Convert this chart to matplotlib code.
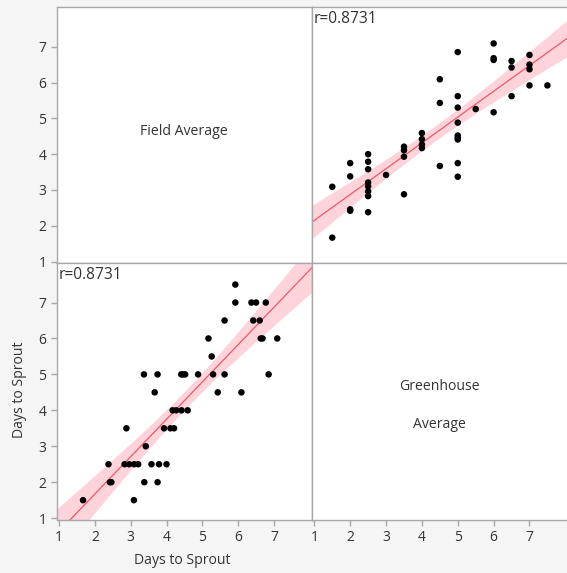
import numpy as np
import matplotlib
matplotlib.use("Agg")
import matplotlib.pyplot as plt

plt.rcParams['font.family'] = ['Open Sans', 'DejaVu Sans']

# Paired observations (Days to Sprout)
greenhouse = [1.5, 1.5,
              2.0, 2.0, 2.0, 2.0,
              2.5, 2.5, 2.5, 2.5, 2.5, 2.5, 2.5, 2.5,
              3.0,
              3.5, 3.5, 3.5, 3.5,
              4.0, 4.0, 4.0, 4.0,
              4.5, 4.5, 4.5,
              5.0, 5.0, 5.0, 5.0, 5.0, 5.0, 5.0, 5.0, 5.0,
              5.5,
              6.0, 6.0, 6.0, 6.0,
              6.5, 6.5, 6.5,
              7.0, 7.0, 7.0, 7.0,
              7.5]
field = [3.09, 1.67,
         3.75, 3.38, 2.46, 2.42,
         4.00, 3.79, 3.58, 3.21, 3.10, 2.96, 2.83, 2.38,
         3.42,
         4.21, 4.11, 3.93, 2.88,
         4.59, 4.42, 4.27, 4.17,
         6.09, 5.43, 3.67,
         6.85, 5.62, 5.30, 4.88, 4.52, 4.46, 4.41, 3.75, 3.37,
         5.26,
         7.09, 6.68, 6.63, 5.17,
         6.60, 6.42, 5.62,
         6.77, 6.50, 6.37, 5.92,
         5.92]
variables = ["Field Average", "Greenhouse Average"]
r_text = "r=0.8731"
ticks = [1, 2, 3, 4, 5, 6, 7]
axis_label = "Days to Sprout"

W, H = 567, 573
fig = plt.figure(figsize=(W / 100, H / 100), dpi=100)
fig.patch.set_facecolor('#f5f5f5')

def px_rect(x0, y0, x1, y1):
    return [x0 / W, 1 - y1 / H, (x1 - x0) / W, (y1 - y0) / H]

ax_tl = fig.add_axes(px_rect(56.7, 7.3, 312.0, 263.0))
ax_tr = fig.add_axes(px_rect(312.0, 7.3, 567.5, 263.0))
ax_bl = fig.add_axes(px_rect(56.7, 263.0, 312.0, 519.5))
ax_br = fig.add_axes(px_rect(312.0, 263.0, 567.5, 519.5))

xlim = (0.935, 8.06)
ylim = (0.962, 8.1)
edge = '#a8a8a8'
txt = '#333333'

for ax in (ax_tl, ax_tr, ax_bl, ax_br):
    ax.set_facecolor('white')
    ax.set_xlim(*xlim)
    ax.set_ylim(*ylim)
    for s in ax.spines.values():
        s.set_color(edge)
        s.set_linewidth(1.0)
    ax.set_xticks(ticks)
    ax.set_yticks(ticks)
    ax.tick_params(colors=edge, labelcolor=txt, labelsize=10, length=4, width=1)
    ax.tick_params(labelleft=False, labelbottom=False, left=False, bottom=False)

ax_tl.tick_params(left=True, labelleft=True)
ax_bl.tick_params(left=True, labelleft=True, bottom=True, labelbottom=True)
ax_br.tick_params(bottom=True, labelbottom=True)

def fit_panel(ax, x, y):
    x = np.asarray(x, float)
    y = np.asarray(y, float)
    n = len(x)
    b, a = np.polyfit(x, y, 1)
    xs = np.linspace(xlim[0], xlim[1], 200)
    yhat = a + b * xs
    resid = y - (a + b * x)
    s = np.sqrt(np.sum(resid ** 2) / (n - 2))
    sxx = np.sum((x - x.mean()) ** 2)
    se = s * np.sqrt(1 / n + (xs - x.mean()) ** 2 / sxx)
    t = 2.0129
    ax.fill_between(xs, yhat - t * se, yhat + t * se, color='#ffd3da', lw=0, zorder=1)
    ax.plot(xs, yhat, color='#ec5a66', lw=0.9, zorder=2)
    ax.scatter(x, y, s=22, color='black', edgecolors='none', zorder=3)
    ax.text(0.006, 0.985, r_text, transform=ax.transAxes, ha='left', va='top',
            fontsize=11.2, color=txt, zorder=4)

fit_panel(ax_tr, greenhouse, field)
fit_panel(ax_bl, field, greenhouse)

ax_tl.text(0.5, 0.515, "Field Average", transform=ax_tl.transAxes, ha='center',
           va='center', fontsize=10.2, color=txt)
ax_br.text(0.5, 0.518, "Greenhouse", transform=ax_br.transAxes, ha='center',
           va='center', fontsize=10.1, color=txt)
ax_br.text(0.5, 0.37, "Average", transform=ax_br.transAxes, ha='center',
           va='center', fontsize=10.1, color=txt)

fig.text(182 / W, 1 - 561 / H, axis_label, ha='center', va='center',
         fontsize=10.1, color=txt)
fig.text(20 / W, 1 - 390 / H, axis_label, ha='center', va='center',
         rotation=90, fontsize=10.1, color=txt)

fig.savefig("out.png", dpi=100, facecolor=fig.get_facecolor())
